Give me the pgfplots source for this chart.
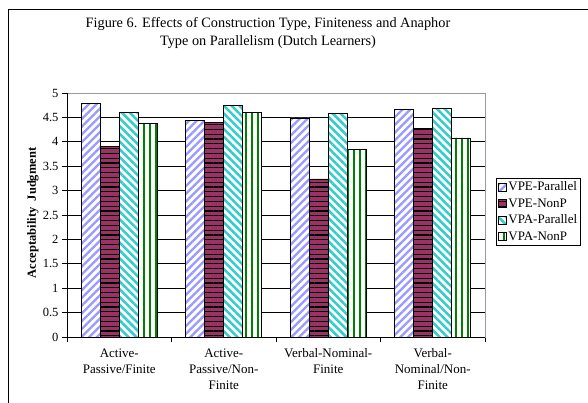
\documentclass[border=0pt]{standalone}
\usepackage{pgfplots}
\pgfplotsset{compat=1.18}
\usetikzlibrary{patterns.meta}
\usepackage{fontspec}
\setmainfont{Liberation Serif}
\definecolor{vpep}{RGB}{153,153,255}
\definecolor{vpen}{RGB}{153,51,102}
\definecolor{vpap}{RGB}{51,204,204}
\definecolor{vpan}{RGB}{0,128,0}
\begin{document}
\begin{tikzpicture}
\useasboundingbox (0,0) rectangle (588pt,403pt);
\draw[line width=1pt] (8.5pt,0pt) -- (8.5pt,393pt) -- (600pt,393pt);
\node[align=center, font=\fontsize{14.3}{18}\selectfont] at (268pt,370pt)
  {Figure 6. Effects of Construction Type, Finiteness and Anaphor\\Type on Parallelism (Dutch Learners)};
\node[rotate=90, font=\fontsize{12.5}{14}\selectfont\bfseries] at (33pt,190pt) {Acceptability\ \ Judgment};
\begin{axis}[
  at={(67pt,66pt)}, anchor=south west,
  width=418pt, height=244pt, scale only axis,
  ybar=0pt, bar width=19pt,
  xmin=-0.5, xmax=3.5, ymin=0, ymax=5,
  xtick={-0.5,0.5,1.5,2.5,3.5},
  x tick label as interval,
  xticklabels={{Active-\\Passive/Finite},{Active-\\Passive/Non-\\Finite},{Verbal-Nominal-\\Finite},{Verbal-\\Nominal/Non-\\Finite}},
  xticklabel style={align=center, font=\fontsize{13}{16}\selectfont, yshift=-3pt},
  ytick={0,0.5,...,5},
  yticklabel style={font=\fontsize{12.5}{14}\selectfont},
  /pgf/number format/assume math mode=true,
  /pgf/number format/.cd, fixed, /pgfplots/.cd,
  ymajorgrids, grid style={black, line width=0.6pt},
  axis line style={draw=gray!80, line width=0.8pt},
  tick style={black, line width=0.8pt},
  tick align=outside, major tick length=5pt,
  xtick pos=bottom, ytick pos=left,
  legend style={at={(1.026,0.652)}, anchor=north west, draw=black, line width=0.8pt,
    font=\fontsize{13}{14}\selectfont, inner sep=1.5pt, row sep=2.2pt,
    legend cell align=left},
  legend image code/.code={\draw[#1, line width=0.6pt] (0pt,-4pt) rectangle (8pt,4pt);},
  every axis plot/.append style={draw=black, line width=0.7pt},
  after end axis/.code={
    \draw[black, line width=0.8pt] (rel axis cs:0,1) -- (rel axis cs:0,0) -- (rel axis cs:1,0);
  },
]
\addplot[fill=white, postaction={pattern={Lines[angle=45,distance=5.5pt,line width=2.3pt]}, pattern color=vpep}]
  coordinates {(0,4.78) (1,4.43) (2,4.49) (3,4.66)};
\addplot[fill=vpen, postaction={pattern={Lines[angle=0,distance=4.8pt,line width=1.1pt]}, pattern color=black}]
  coordinates {(0,3.91) (1,4.40) (2,3.24) (3,4.28)};
\addplot[fill=white, postaction={pattern={Lines[angle=-45,distance=5.5pt,line width=2.5pt]}, pattern color=vpap}]
  coordinates {(0,4.60) (1,4.74) (2,4.59) (3,4.69)};
\addplot[fill=white, postaction={pattern={Lines[angle=90,distance=6pt,line width=2.6pt]}, pattern color=vpan}]
  coordinates {(0,4.385) (1,4.60) (2,3.84) (3,4.08)};
\legend{VPE-Parallel,VPE-NonP,VPA-Parallel,VPA-NonP}
\end{axis}
\end{tikzpicture}
\end{document}
